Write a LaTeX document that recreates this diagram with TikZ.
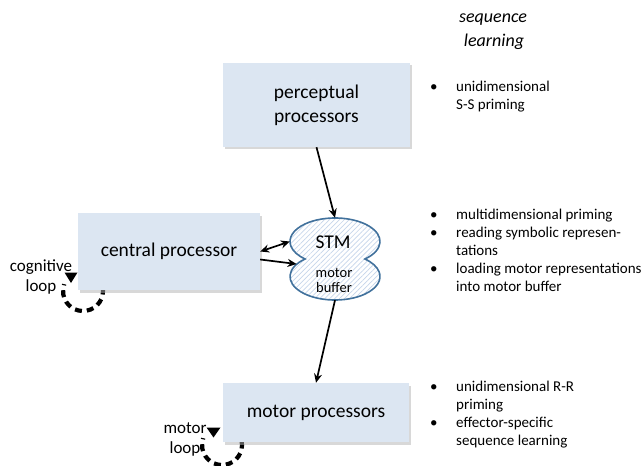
\documentclass[tikz,border=0pt]{standalone}
\usepackage{fontspec}
\setmainfont{Carlito}
\usetikzlibrary{arrows.meta,shadows,patterns.meta,calc,shapes.geometric}
\definecolor{boxfill}{HTML}{DCE6F2}
\definecolor{cloudline}{HTML}{41719C}
\definecolor{hatchcol}{HTML}{C6D6EB}
\begin{document}
\begin{tikzpicture}[x=1pt,y=-1pt,
  procbox/.style={fill=boxfill, inner sep=0pt, align=center,
    font=\fontsize{19.5}{24}\selectfont,
    drop shadow={shadow xshift=2pt, shadow yshift=-2.5pt, fill=black!30}},
  lobe/.style={ellipse, minimum width=90pt, minimum height=47pt, inner sep=0pt},
  conn/.style={line width=1.7pt, -{Stealth[length=9pt,width=8pt]}},
  dconn/.style={line width=1.7pt, {Stealth[length=9pt,width=8pt]}-{Stealth[length=9pt,width=8pt]}},
  loopline/.style={line width=4.2pt, dash pattern=on 7pt off 5pt},
  looptext/.style={align=center, inner sep=0pt, font=\fontsize{17}{20}\selectfont},
  sidetext/.style={anchor=base west, inner sep=0pt, font=\fontsize{15}{18}\selectfont},
  headtext/.style={anchor=base, inner sep=0pt, font=\fontsize{18}{24}\selectfont\itshape}
]
\useasboundingbox (0,0) rectangle (644,465);

% loops (drawn first, boxes cover their upper part)
\draw[loopline] (83,291) ++(-10:20) arc[start angle=-10, end angle=200, radius=20];
\fill (64.5,272.5) -- (77.5,272.5) -- (71,283) -- cycle;
\draw[loopline] (222,445) ++(-10:20) arc[start angle=-10, end angle=200, radius=20];
\fill (206.5,427.5) -- (220.5,427.5) -- (213.5,437.5) -- cycle;

% processor boxes
\node[procbox, minimum width=187pt, minimum height=84pt] (perc) at (316.5,105) {perceptual\\processors};
\node[procbox, minimum width=182pt, minimum height=77pt] (central) at (169,251.5) {central processor};
\node[procbox, minimum width=186pt, minimum height=59pt] (motor) at (316,412.5) {motor processors};

% STM cloud
\path[preaction={fill=white}, pattern={Lines[angle=45,distance=3.5pt,line width=0.7pt]}, pattern color=hatchcol,
  draw=cloudline, line width=1.6pt]
  (365,259) arc[start angle=48.2, end angle=-228.2, x radius=45, y radius=23.5]
  arc[start angle=228.2, end angle=-48.2, x radius=45, y radius=23.5] -- cycle;
\node[lobe] (stmtop) at (335,241.5) {};
\node[lobe] (stmbot) at (335,276.5) {};
\node[inner sep=0pt, font=\fontsize{19.5}{22}\selectfont] (stmlabel) at (333,242) {STM};
\node[inner sep=0pt, align=center, font=\fontsize{14.5}{15}\selectfont] (buflabel) at (334,280) {motor\\buffer};

% connectors
\draw[conn] (perc.south) -- (stmtop.north);
\draw[dconn] (central.east) -- (stmtop.west);
\draw[conn] ($(central.east)+(0,8)$) -- (stmbot.162);
\draw[conn] (stmbot.south) -- (motor.north);

% loop labels
\node[looptext] (coglabel) at (41,277) {cognitive\\loop};
\node[looptext] (motlabel) at (185,439) {motor\\loop};

% heading
\node[headtext] (head1) at (493,23) {sequence};
\node[headtext] (head2) at (494,47) {learning};

% side texts
\node[sidetext] (s1) at (430,92) {\makebox[26pt][l]{•}unidimensional};
\node[sidetext] (s2) at (430,110) {\hspace*{26pt}S-S priming};
\node[sidetext] (s3) at (430,219) {\makebox[26pt][l]{•}multidimensional priming};
\node[sidetext] (s4) at (430,237) {\makebox[26pt][l]{•}reading symbolic represen-};
\node[sidetext] (s5) at (430,255) {\hspace*{26pt}tations};
\node[sidetext] (s6) at (430,273) {\makebox[26pt][l]{•}loading motor representations};
\node[sidetext] (s7) at (430,291) {\hspace*{26pt}into motor buffer};
\node[sidetext] (s8) at (430,391) {\makebox[26pt][l]{•}unidimensional R-R};
\node[sidetext] (s9) at (430,409) {\hspace*{26pt}priming};
\node[sidetext] (s10) at (430,427) {\makebox[26pt][l]{•}effector-specific};
\node[sidetext] (s11) at (430,445) {\hspace*{26pt}sequence learning};
\end{tikzpicture}
\end{document}
